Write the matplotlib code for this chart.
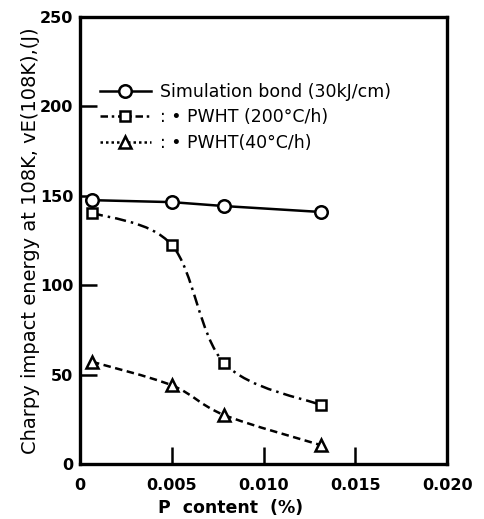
import matplotlib
matplotlib.use('Agg')
import matplotlib.pyplot as plt
import numpy as np
from matplotlib.path import Path
from matplotlib.patches import PathPatch
from matplotlib.lines import Line2D

plt.rcParams['font.family'] = ['DejaVu Sans']

# data
p_content = [0.00065, 0.005, 0.00785, 0.0131]
sim_bond = [147.6, 146.5, 144.3, 141.0]
pwht_200 = [140.6, 122.5, 56.5, 33.0]
pwht_40 = [57.2, 44.0, 27.4, 10.6]

labels = ['Simulation bond (30kJ/cm)', ': \u2022 PWHT (200\u00b0C/h)', ': \u2022 PWHT(40\u00b0C/h)']
xticks = [0, 0.005, 0.010, 0.015, 0.020]
xticklabels = ['0', '0.005', '0.010', '0.015', '0.020']
yticks = [0, 50, 100, 150, 200, 250]

dashdot = (0, (4.5, 2, 1, 2))
dashed = (0, (3, 1.8))


def smooth_path(x, y):
    # Catmull-Rom through the points, drawn as cubic bezier segments
    pts = np.column_stack([x, y])
    verts = [pts[0]]
    codes = [Path.MOVETO]
    n = len(pts)
    for i in range(n - 1):
        p0 = pts[i - 1] if i > 0 else pts[i]
        p1 = pts[i]
        p2 = pts[i + 1]
        p3 = pts[i + 2] if i + 2 < n else pts[i + 1]
        c1 = p1 + (p2 - p0) / 6.0
        c2 = p2 - (p3 - p1) / 6.0
        verts += [c1, c2, p2]
        codes += [Path.CURVE4] * 3
    return Path(verts, codes)


fig = plt.figure(figsize=(4.85, 5.19), dpi=100)
ax = fig.add_axes([0.165, 0.106, 0.757, 0.861])

lw = 1.8
ax.plot(p_content, sim_bond, '-', color='black', lw=lw)
ax.add_patch(PathPatch(smooth_path(p_content, pwht_200), fill=False, ec='black',
                       lw=lw, linestyle=dashdot))
ax.add_patch(PathPatch(smooth_path(p_content, pwht_40), fill=False, ec='black',
                       lw=lw, linestyle=dashed))

ax.plot(p_content, sim_bond, 'o', ms=9, mfc='white', mec='black', mew=lw, ls='none')
ax.plot(p_content, pwht_200, 's', ms=7.5, mfc='white', mec='black', mew=lw, ls='none')
ax.plot(p_content, pwht_40, '^', ms=9, mfc='white', mec='black', mew=lw, ls='none')

ax.set_xlim(0, 0.020)
ax.set_ylim(0, 250)
ax.set_xticks(xticks)
ax.set_xticklabels(xticklabels)
ax.set_yticks(yticks)
ax.tick_params(direction='in', length=12, width=1.8, labelsize=11.5)
ax.tick_params(axis='x', pad=10)
ax.tick_params(axis='y', pad=5)
for lab in ax.get_xticklabels() + ax.get_yticklabels():
    lab.set_fontweight('bold')
for s in ax.spines.values():
    s.set_linewidth(2.4)

ax.set_xlabel('P  content  (%)', fontsize=12.5, fontweight='bold')
ax.xaxis.set_label_coords(0.411, -0.078)
ax.set_ylabel('Charpy impact energy at 108K, vE(108K),(J)', fontsize=14)
ax.yaxis.set_label_coords(-0.11, 0.5)

handles = [
    Line2D([], [], color='black', lw=lw, marker='o', ms=9, mfc='white', mew=lw),
    Line2D([], [], color='black', lw=lw, ls=(0, (3, 1.5, 1, 1.5)), marker='s', ms=7.5, mfc='white', mew=lw),
    Line2D([], [], color='black', lw=lw, ls=(0, (1, 1.2)), marker='^', ms=9, mfc='white', mew=lw),
]
ax.legend(handles, labels, loc='upper left', bbox_to_anchor=(0.055, 0.853), frameon=False,
          fontsize=12.5, handlelength=2.9, handletextpad=0.55, labelspacing=0.43,
          borderaxespad=0, borderpad=0)

fig.savefig('out.png', dpi=100)
